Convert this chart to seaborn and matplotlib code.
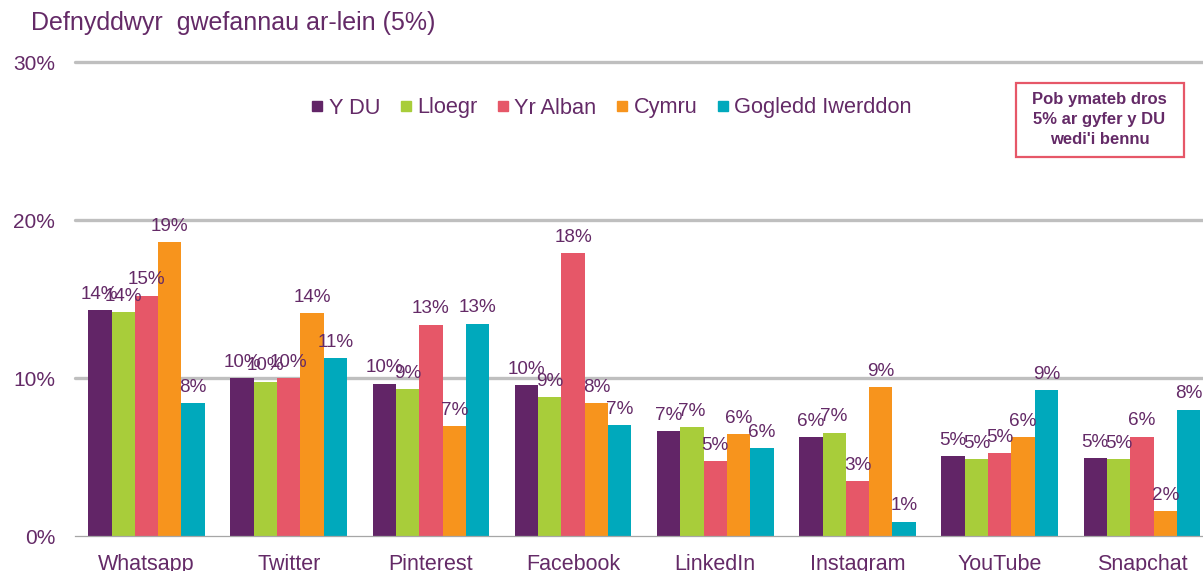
import matplotlib
matplotlib.use("Agg")
import matplotlib.pyplot as plt
from matplotlib.lines import Line2D
from matplotlib.patches import Rectangle
import seaborn as sns
import pandas as pd

# ---- data ----
categories = ['Whatsapp', 'Twitter', 'Pinterest', 'Facebook', 'LinkedIn',
              'Instagram', 'YouTube', 'Snapchat']
series_names = ['Y DU', 'Lloegr', 'Yr Alban', 'Cymru', 'Gogledd Iwerddon']
y_du = [14.3, 10.0, 9.65, 9.53, 6.65, 6.25, 5.06, 4.92]
lloegr = [14.15, 9.76, 9.3, 8.8, 6.9, 6.55, 4.87, 4.85]
yr_alban = [15.2, 10.0, 13.38, 17.9, 4.75, 3.46, 5.23, 6.29]
cymru = [18.6, 14.1, 6.96, 8.4, 6.45, 9.41, 6.25, 1.56]
gogledd_iwerddon = [8.4, 11.26, 13.44, 7.0, 5.57, 0.9, 9.24, 8.0]
y_ticks = [0, 10, 20, 30]
y_tick_labels = ['0%', '10%', '20%', '30%']
title = 'Defnyddwyr  gwefannau ar-lein (5%)'
note = "Pob ymateb dros\n5% ar gyfer y DU\nwedi'i bennu"

colors = ['#622567', '#A8CD3A', '#E65768', '#F7941D', '#00A9BC']
text_color = '#642A67'

all_series = [y_du, lloegr, yr_alban, cymru, gogledd_iwerddon]
df = pd.DataFrame({
    'category': [c for s in all_series for c in categories],
    'series': [n for n, s in zip(series_names, all_series) for _ in s],
    'value': [v for s in all_series for v in s],
})

sns.set_theme(style='white')
plt.rcParams['font.family'] = ['Liberation Sans', 'DejaVu Sans']

W, H = 1203, 571
fig = plt.figure(figsize=(W / 100, H / 100), dpi=100)
ax_left, ax_right = 75.4, 1213.0
ax_bottom, ax_top = 536.0, 62.0
ax = fig.add_axes([ax_left / W, 1 - ax_bottom / H,
                   (ax_right - ax_left) / W, (ax_bottom - ax_top) / H])

sns.barplot(data=df, x='category', y='value', hue='series',
            order=categories, hue_order=series_names, palette=colors,
            width=0.82, saturation=1, legend=False, ax=ax, linewidth=0,
            edgecolor='none')

ax.set_ylim(0, 30)
ax.set_xlim(-0.5, len(categories) - 0.5)
ax.set_yticks(y_ticks)
ax.set_yticklabels(y_tick_labels)
ax.set_xlabel('')
ax.set_ylabel('')

ax.set_axisbelow(True)
ax.yaxis.grid(True, color='#BFBFBF', linewidth=2.4)
ax.xaxis.grid(False)
gls = ax.yaxis.get_gridlines()
for gl in gls:
    gl.set_clip_on(False)
gls[0].set_visible(False)

for s in ['left', 'top', 'right']:
    ax.spines[s].set_visible(False)
ax.spines['bottom'].set_color('#A6A6A6')
ax.spines['bottom'].set_linewidth(0.9)

ax.tick_params(axis='y', length=0, pad=14.5, labelsize=15, labelcolor=text_color)
ax.tick_params(axis='x', which='major', length=0, pad=13, labelsize=15.5,
               labelcolor=text_color)
ax.set_xticks([i - 0.5 for i in range(len(categories) + 1)], minor=True)
ax.tick_params(axis='x', which='minor', length=4.3, width=0.9,
               color='#A6A6A6', direction='out')

# data labels
for container, vals in zip(ax.containers, all_series):
    for bar, v in zip(container, vals):
        ax.annotate(f'{round(v):d}%',
                    (bar.get_x() + bar.get_width() / 2, bar.get_height()),
                    xytext=(0, 8.2), textcoords='offset points',
                    ha='center', va='baseline', fontsize=13.6,
                    color=text_color, annotation_clip=False)

# title
fig.text(31 / W, 1 - 30 / H, title, ha='left', va='baseline',
         fontsize=18, color=text_color)

# legend
handles = [Line2D([0], [0], marker='s', linestyle='none', markersize=7.3,
                  markerfacecolor=c, markeredgecolor=c) for c in colors]
fig.legend(handles, series_names, loc='center',
           bbox_to_anchor=(612 / W, 1 - 108 / H), ncol=5, frameon=False,
           fontsize=15.7, handlelength=0.45, handletextpad=0.3,
           columnspacing=0.95, labelcolor=text_color, borderaxespad=0)

# note box
box = Rectangle((1016 / W, 1 - 157.3 / H), 168 / W, 74.6 / H,
                transform=fig.transFigure, fill=True, facecolor='white',
                edgecolor='#E65768', linewidth=1.6)
fig.add_artist(box)
fig.text(1099.5 / W, 1 - 119.5 / H, note, ha='center', va='center',
         fontsize=12, fontweight='bold', color=text_color, linespacing=1.45)

fig.savefig('out.png', dpi=100)
